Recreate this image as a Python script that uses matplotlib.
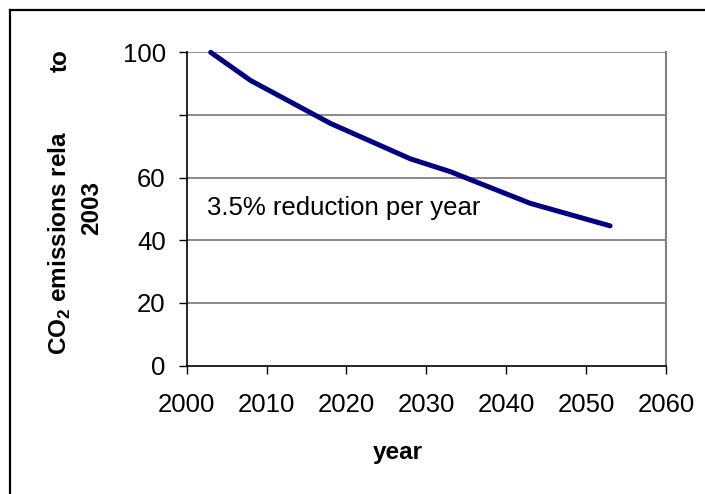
import matplotlib
matplotlib.use("Agg")
import matplotlib.pyplot as plt
from matplotlib.lines import Line2D

plt.rcParams['font.family'] = ['Liberation Sans', 'DejaVu Sans']
plt.rcParams['mathtext.fontset'] = 'custom'
plt.rcParams['mathtext.rm'] = 'Liberation Sans'
plt.rcParams['mathtext.bf'] = 'Liberation Sans:bold'

# Data
years = [2003, 2008, 2018, 2028, 2033, 2043, 2053]
emissions = [100, 91.0, 77.3, 66.0, 61.9, 51.8, 44.6]
x_ticks = [2000, 2010, 2020, 2030, 2040, 2050, 2060]
y_ticks = [0, 20, 40, 60, 80, 100]
y_tick_labels = ["0", "20", "40", "60", "", "100"]
annotation = "3.5% reduction per year"

W, H = 705, 494
fig = plt.figure(figsize=(W / 100, H / 100), dpi=100)
fig.patch.set_facecolor('white')

def fx(px):
    return px / W

def fy(py):
    return 1 - py / H

left, right, top, bottom = 186.7, 666.0, 52.3, 365.6
ax = fig.add_axes([fx(left), fy(bottom), fx(right) - fx(left), fy(top) - fy(bottom)])

ax.set_xlim(2000, 2060)
ax.set_ylim(0, 100)
ax.set_xticks(x_ticks)
ax.set_xticklabels([str(t) for t in x_ticks])
ax.set_yticks(y_ticks)
ax.set_yticklabels(y_tick_labels)

for y in y_ticks[1:]:
    ax.axhline(y, color='#808080', linewidth=1.3, zorder=1)

ax.plot(years, emissions, color='#000080', linewidth=3.6, solid_capstyle='round',
        solid_joinstyle='round', zorder=3, clip_on=False)

ax.text(2002.5, 48.1, annotation, fontsize=18.5, va='baseline', ha='left', color='black')

ax.spines['top'].set_visible(False)
ax.spines['right'].set_color('#808080')
ax.spines['right'].set_linewidth(1.5)
ax.spines['left'].set_color('black')
ax.spines['left'].set_linewidth(1.2)
ax.spines['bottom'].set_color('black')
ax.spines['bottom'].set_linewidth(1.2)

ax.tick_params(axis='x', direction='out', length=6, width=1.0, pad=14, labelsize=18.5)
ax.tick_params(axis='y', direction='out', length=6, width=1.0, pad=9, labelsize=18.5)

# Axis labels (placed as figure text, as in the original truncated label)
fig.text(fx(398), fy(452), "year", fontsize=17.5, fontweight='bold', ha='center', va='center')
fig.text(fx(60), fy(243), r"CO$_\mathbf{2}$ emissions rela", fontsize=17.5, fontweight='bold',
         rotation=90, ha='center', va='center')
fig.text(fx(60), fy(61), "to", fontsize=17.5, fontweight='bold', rotation=90, ha='center', va='center')
fig.text(fx(92), fy(208), "2003", fontsize=17.5, fontweight='bold', rotation=90, ha='center', va='center')

# Outer frame (left and top visible)
fig.add_artist(Line2D([fx(9.5), fx(9.5)], [fy(10.5), 0], transform=fig.transFigure,
                      color='black', linewidth=1.6))
fig.add_artist(Line2D([fx(9.5), 1], [fy(10.5), fy(10.5)], transform=fig.transFigure,
                      color='black', linewidth=1.6))

fig.savefig("out.png", dpi=100)
